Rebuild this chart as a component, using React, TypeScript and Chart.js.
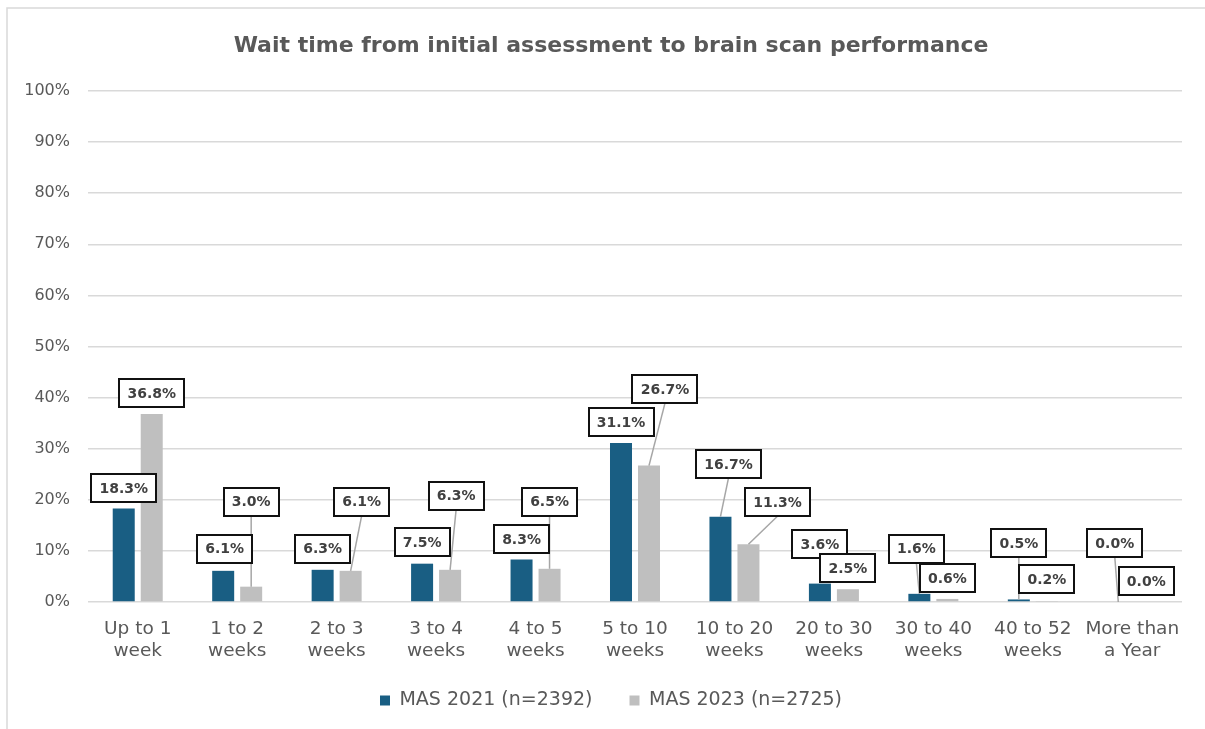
import React, { useEffect, useRef } from "react";
import { Chart, registerables } from "chart.js";

Chart.register(...registerables);

const FONT = "'DejaVu Sans', 'Open Sans', sans-serif";

const chartTitle = "Wait time from initial assessment to brain scan performance";
const categories = [
  ["Up to 1", "week"],
  ["1 to 2", "weeks"],
  ["2 to 3", "weeks"],
  ["3 to 4", "weeks"],
  ["4 to 5", "weeks"],
  ["5 to 10", "weeks"],
  ["10 to 20", "weeks"],
  ["20 to 30", "weeks"],
  ["30 to 40", "weeks"],
  ["40 to 52", "weeks"],
  ["More than", "a Year"],
];
const seriesNames = ["MAS 2021 (n=2392)", "MAS 2023 (n=2725)"];
const values2021 = [18.3, 6.1, 6.3, 7.5, 8.3, 31.1, 16.7, 3.6, 1.6, 0.5, 0.0];
const values2023 = [36.8, 3.0, 6.1, 6.3, 6.5, 26.7, 11.3, 2.5, 0.6, 0.2, 0.0];
const yMin = 0;
const yMax = 100;
const yStep = 10;

// label placement (layout only): offset of label centre from bar top, and leader flag
const labelOffsets2021 = [[0, -20.5], [1.5, -22], [0, -21], [0, -21.5], [0, -20.5], [0, -21], [8, -52.5], [0, -39.5], [-3, -45], [0, -56], [-3.5, -59]];
const leaders2021 = [0, 0, 0, 0, 0, 0, 1, 0, 1, 1, 1];
const labelOffsets2023 = [[0, -21], [0, -85], [11, -69], [6, -74], [0, -67], [16, -76.5], [29, -42], [0, -21], [0, -21], [0, -21.5], [0, -21]];
const leaders2023 = [0, 1, 1, 1, 1, 1, 1, 0, 0, 0, 0];

const COLOR_2021 = "#195E83";
const COLOR_2023 = "#BFBFBF";
const TEXT = "#595959";

const frame = {
  id: "frame",
  afterLayout(chart: any) {
    // let tick labels extend outside their scale boxes
    Object.values(chart.scales).forEach((s: any) => {
      s._computeLabelArea = () => undefined;
    });
  },
  beforeDraw(chart: any) {
    const { ctx, width, height } = chart;
    ctx.save();
    ctx.fillStyle = "#ffffff";
    ctx.fillRect(0, 0, width, height);
    ctx.strokeStyle = "#d9d9d9";
    ctx.lineWidth = 1.5;
    ctx.strokeRect(7, 8, width + 10, height + 10);
    ctx.restore();
  },
};

const boxedLabels = {
  id: "boxedLabels",
  afterDatasetsDraw(chart: any) {
    const { ctx } = chart;
    const offsets = [labelOffsets2021, labelOffsets2023];
    const leaders = [leaders2021, leaders2023];
    const items: any[] = [];
    chart.data.datasets.forEach((ds: any, di: number) => {
      const meta = chart.getDatasetMeta(di);
      meta.data.forEach((bar: any, i: number) => {
        const v = ds.data[i];
        const [dx, dy] = offsets[di][i];
        items.push({
          text: v.toFixed(1) + "%",
          bx: bar.x,
          by: bar.y,
          cx: bar.x + dx,
          cy: bar.y + dy,
          leader: leaders[di][i] === 1,
        });
      });
    });
    ctx.save();
    ctx.font = `bold 14px ${FONT}`;
    const h = 28;
    ctx.strokeStyle = "#a6a6a6";
    ctx.lineWidth = 1.5;
    items.forEach((it) => {
      if (!it.leader) return;
      ctx.beginPath();
      ctx.moveTo(it.cx, it.cy + h / 2);
      ctx.lineTo(it.bx, it.by);
      ctx.stroke();
    });
    items.forEach((it) => {
      const w = Math.round(ctx.measureText(it.text).width + 16);
      const x = Math.round(it.cx - w / 2);
      const y = Math.round(it.cy - h / 2);
      ctx.fillStyle = "#ffffff";
      ctx.fillRect(x, y, w, h);
      ctx.strokeStyle = "#111111";
      ctx.lineWidth = 2;
      ctx.strokeRect(x, y, w, h);
      ctx.fillStyle = "#404040";
      ctx.textAlign = "center";
      ctx.textBaseline = "middle";
      ctx.fillText(it.text, it.cx, it.cy + 1);
    });
    ctx.restore();
  },
};

export default function App() {
  const ref = useRef<HTMLCanvasElement | null>(null);
  useEffect(() => {
    if (!ref.current) return;
    const chart = new Chart(ref.current, {
      type: "bar",
      data: {
        labels: categories,
        datasets: [
          { label: seriesNames[0], data: values2021, backgroundColor: COLOR_2021, borderWidth: 0 },
          { label: seriesNames[1], data: values2023, backgroundColor: COLOR_2023, borderWidth: 0 },
        ],
      },
      options: {
        animation: false,
        responsive: false,
        maintainAspectRatio: false,
        devicePixelRatio: 1,
        datasets: { bar: { categoryPercentage: 0.563, barPercentage: 0.786 } },
        layout: { padding: { left: 40, right: 23, top: 8, bottom: 9 } },
        plugins: {
          title: {
            display: true,
            text: chartTitle,
            color: TEXT,
            font: { family: FONT, size: 22, weight: "bold", lineHeight: 1.2 },
            padding: { top: 25, bottom: 31.6 },
          },
          legend: {
            position: "bottom",
            labels: {
              boxWidth: 10,
              boxHeight: 10,
              padding: 37,
              color: TEXT,
              font: { family: FONT, size: 19 },
            },
          },
          tooltip: { enabled: false },
        },
        scales: {
          x: {
            grid: { display: false },
            border: { display: false },
            ticks: {
              color: TEXT,
              font: { family: FONT, size: 18.5, lineHeight: 1.2 },
              padding: 8,
              maxRotation: 0,
              autoSkip: false,
            },
            afterFit: (s: any) => {
              s.height = 52;
            },
          },
          y: {
            min: yMin,
            max: yMax,
            ticks: {
              stepSize: yStep,
              callback: (v: any) => v + "%",
              color: TEXT,
              font: { family: FONT, size: 16 },
              padding: 18,
            },
            grid: { color: "#d9d9d9", lineWidth: 1.5, drawTicks: false },
            border: { display: false },
            afterFit: (s: any) => {
              s.width = 48;
            },
          },
        },
      } as any,
      plugins: [frame, boxedLabels],
    });
    return () => chart.destroy();
  }, []);
  return (
    <div style={{ position: "fixed", left: 0, top: 0, width: 1205, height: 729 }}>
      <canvas ref={ref} width={1205} height={729} style={{ width: 1205, height: 729 }} />
    </div>
  );
}
